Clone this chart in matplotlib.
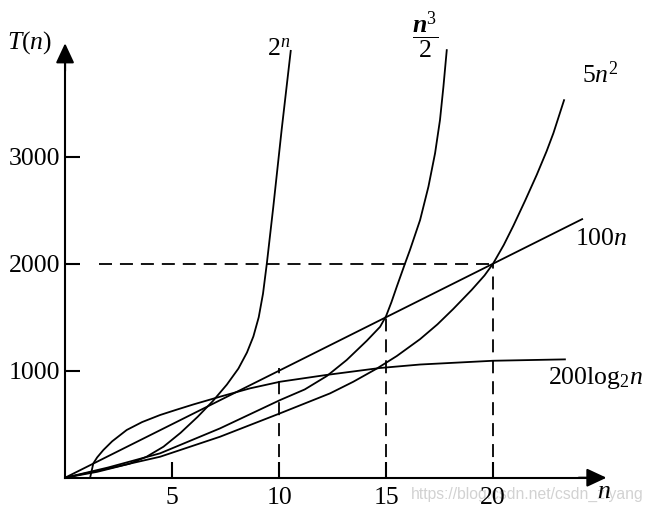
import matplotlib
matplotlib.use("Agg")
import matplotlib.pyplot as plt

plt.rcParams['font.family'] = ['Liberation Serif', 'DejaVu Serif']
plt.rcParams['mathtext.fontset'] = 'custom'
plt.rcParams['mathtext.rm'] = 'Liberation Serif'
plt.rcParams['mathtext.it'] = 'Liberation Serif:italic'
plt.rcParams['mathtext.bf'] = 'Liberation Serif:italic:bold'

# curves (n, T(n))
n_exp = [0, 1.5, 3.0, 3.8, 4.6, 5.4, 6.2, 6.9, 7.56, 8.1, 8.5, 8.8, 9.05, 9.25, 9.43, 9.73, 10.12, 10.55]
t_exp = [0, 55, 130, 195, 290, 420, 570, 715, 870, 1020, 1170, 1320, 1500, 1720, 2004, 2530, 3250, 3997]

n_cube = [0, 2.0, 4.44, 7.24, 10.05, 11.2, 12.23, 13.16, 14.1, 14.72, 15.0, 15.25, 15.5, 15.89,
          16.12, 16.59, 16.98, 17.29, 17.52, 17.68, 17.84]
t_cube = [0, 95, 228, 461, 726, 825, 950, 1100, 1280, 1410, 1510, 1640, 1785, 2004,
          2130, 2408, 2720, 3032, 3343, 3654, 4004]

n_sq = [0, 2.0, 4.44, 7.24, 10.05, 12.38, 13.47, 14.56, 15.5, 16.59, 17.4, 18.14, 19.0, 19.6,
        20.0, 20.5, 20.95, 21.5, 22.04, 22.5, 22.82, 23.33]
t_sq = [0, 85, 196, 383, 602, 788, 897, 1019, 1137, 1295, 1433, 1577, 1755, 1890,
        2000, 2175, 2355, 2590, 2830, 3050, 3220, 3536]

n_lin = [0, 24.2]
t_lin = [0, 2420]

n_log = [1.17, 1.25, 1.32, 1.5, 1.79, 2.2, 2.88, 3.6, 4.44, 5.2, 6.0, 7.24, 8.64, 10.05,
         12.2, 14.7, 16.6, 20.0, 23.4]
t_log = [0, 70, 134, 190, 259, 340, 446, 520, 586, 635, 685, 757, 835, 897,
         960, 1025, 1058, 1093, 1106]

xticks = [5, 10, 15, 20]
yticks = [1000, 2000, 3000]
guides = [(10, 1022), (15, 1510), (20, 2000)]

fig = plt.figure(figsize=(6.51, 5.17), dpi=100)
ax = fig.add_axes([0, 0, 1, 1])
ax.set_xlim(-3.04, 27.38)
ax.set_ylim(-367, 4464)

lw = 1.3
for xs, ys in [(n_exp, t_exp), (n_cube, t_cube), (n_sq, t_sq), (n_lin, t_lin), (n_log, t_log)]:
    ax.plot(xs, ys, color='black', lw=lw, solid_capstyle='butt', solid_joinstyle='round')

dash = (7.2, 4.4)
ax.plot([1.6, 20], [2000, 2000], color='black', lw=lw, dashes=dash)
for gx, gy in guides:
    ax.plot([gx, gx], [0, gy], color='black', lw=lw, dashes=dash)

for side in ['top', 'right']:
    ax.spines[side].set_visible(False)
ax.spines['left'].set_position(('data', 0))
ax.spines['bottom'].set_position(('data', 0))
ax.spines['left'].set_bounds(0, 3950)
ax.spines['bottom'].set_bounds(0, 24.8)
for side in ['left', 'bottom']:
    ax.spines[side].set_linewidth(1.5)

ax.set_xticks(xticks)
ax.set_yticks(yticks)
ax.set_xticklabels([str(v) for v in xticks])
ax.set_yticklabels([str(v) for v in yticks])
ax.tick_params(axis='both', direction='in', width=1.5, labelsize=18.5)
ax.tick_params(axis='y', length=10.8, pad=3.5)
ax.tick_params(axis='x', length=11.5, pad=6.5)
ax.patch.set_visible(False)

arrow = dict(arrowstyle='-|>,head_length=0.6,head_width=0.28', mutation_scale=20,
             color='black', lw=1.5, shrinkA=0, shrinkB=0)
ax.annotate('', xy=(25.3, 0), xytext=(24.0, 0), arrowprops=arrow)
ax.annotate('', xy=(0, 4060), xytext=(0, 3800), arrowprops=arrow)

ax.text(-1.64, 4063, r'$T(n)$', fontsize=18.5, ha='center', va='center')
ax.text(10.0, 3999, r'$2^n$', fontsize=18.5, ha='center', va='center')
ax.text(16.82, 4137, r'$\dfrac{\mathbf{n}^3}{2}$', fontsize=18.5, ha='center', va='center')
ax.text(25.0, 3771, r'$5n^2$', fontsize=18.5, ha='center', va='center')
ax.text(25.05, 2230, r'$100n$', fontsize=18.5, ha='center', va='center')
ax.text(24.81, 932, r'$200\mathrm{log}_2n$', fontsize=18.5, ha='center', va='center')
ax.text(25.19, -133, r'$n$', fontsize=18.5, ha='center', va='center')
# faint watermark, drawn under the tick labels
ax.text(16.15, -155, 'https://blog.csdn.net/csdn_ziyang', fontsize=11.3,
        family='Liberation Sans', color='#d2d2d2', ha='left', va='center', zorder=0)

fig.savefig('out.png', dpi=100)
